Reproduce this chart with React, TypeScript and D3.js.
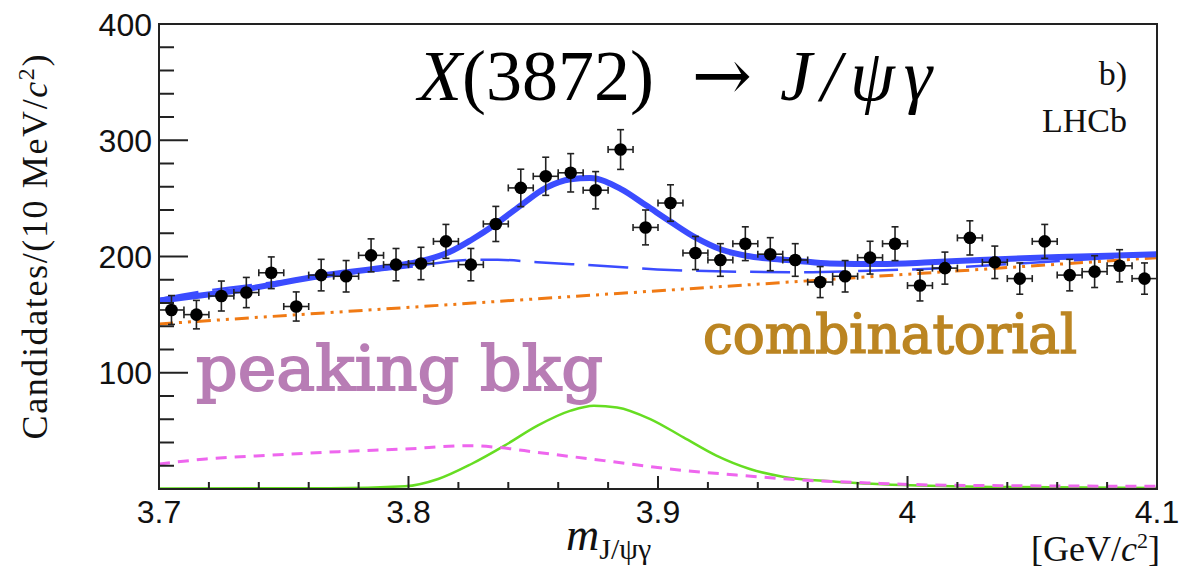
import React from 'react';
import * as d3 from 'd3';

// ---- data ----
const binCenters = [
  3.705, 3.715, 3.725, 3.735, 3.745, 3.755, 3.765, 3.775, 3.785, 3.795,
  3.805, 3.815, 3.825, 3.835, 3.845, 3.855, 3.865, 3.875, 3.885, 3.895,
  3.905, 3.915, 3.925, 3.935, 3.945, 3.955, 3.965, 3.975, 3.985, 3.995,
  4.005, 4.015, 4.025, 4.035, 4.045, 4.055, 4.065, 4.075, 4.085, 4.095,
];
const counts = [
  154, 150, 166, 169, 186, 157, 184, 183, 201, 193,
  194, 213, 193, 228, 259, 269, 272, 257, 292, 225,
  246, 203, 197, 211, 202, 197, 178, 183, 199, 211,
  175, 190, 216, 195, 181, 213, 184, 187, 192, 181,
];

// total fit (thick blue)
const totalX = [3.7, 3.735, 3.765, 3.795, 3.805, 3.8166, 3.825, 3.835, 3.845, 3.855, 3.865, 3.8727, 3.8852, 3.8952, 3.905, 3.9153, 3.9253, 3.9353, 3.9453, 3.9553, 3.9689, 3.989, 4.009, 4.029, 4.0491, 4.0691, 4.1];
const totalY = [162, 172, 183.5, 192, 196, 204, 214, 228, 244, 259, 266.5, 267.5, 258, 244, 230, 216, 206, 200.7, 198, 196.4, 194, 193.5, 195, 197, 198.7, 200, 202];

// signal (green)
const signalX = [3.7, 3.7685, 3.7986, 3.8119, 3.8252, 3.8385, 3.8517, 3.865, 3.8743, 3.8836, 3.8969, 3.9102, 3.9234, 3.9368, 3.95, 3.9713, 3.9978, 4.0377, 4.1];
const signalY = [0.5, 0.6, 2.3, 8.6, 21.5, 37.3, 54.5, 67.4, 71.7, 70.2, 60.2, 44.4, 28.7, 17.2, 10.6, 6.3, 3.4, 1.7, 0.9];

// peaking background (magenta dashed)
const peakingX = [3.7, 3.7188, 3.7455, 3.7721, 3.7986, 3.8251, 3.8358, 3.8517, 3.8783, 3.9048, 3.9314, 3.958, 3.9846, 4.011, 4.0377, 4.1];
const peakingY = [21.5, 25.8, 29.2, 32.1, 34.4, 37.3, 35.8, 31.5, 24.4, 17.2, 12, 7.7, 5.2, 3.4, 2.9, 2.3];

// combinatorial (orange dash-dot-dot)
const combX = [3.7, 4.1];
const combY = [142, 199];

const yTickValues = [100, 200, 300, 400];
const xTickValues = [3.7, 3.8, 3.9, 4.0, 4.1];
const xTickLabels = ['3.7', '3.8', '3.9', '4', '4.1'];

const SERIF = '"Liberation Serif", "Times New Roman", serif';
const SANS = '"Liberation Sans", Arial, sans-serif';
const SLAB = '"DejaVu Serif", serif';

export default function App() {
  const W = 1179;
  const H = 572;
  const L = 159, R = 1157, T = 24, B = 489;
  const x = d3.scaleLinear().domain([3.7, 4.1]).range([L, R]);
  const y = d3.scaleLinear().domain([0, 400]).range([B, T]);

  const line = d3.line<[number, number]>()
    .x((d) => x(d[0]))
    .y((d) => y(d[1]))
    .curve(d3.curveMonotoneX);

  const comb = d3.scaleLinear().domain(combX).range(combY);
  const totalPath = line(totalX.map((v, i) => [v, totalY[i]]))!;
  const signalPath = line(signalX.map((v, i) => [v, signalY[i]]))!;
  const peakingPath = line(peakingX.map((v, i) => [v, peakingY[i]]))!;
  const bkgPath = line(peakingX.map((v, i) => [v, peakingY[i] + comb(v)]))!;
  const combPath = line(combX.map((v, i) => [v, combY[i]]))!;

  const yMinor = d3.range(0, 401, 20);
  const xMinor = d3.range(0, 21).map((i) => 3.7 + i * 0.02);

  const serifStyle = { fontFamily: SERIF };

  return (
    <svg width={W} height={H} style={{ position: 'absolute', left: 0, top: 0, background: '#fff' }}>
      <defs>
        <clipPath id="plotclip">
          <rect x={L} y={T} width={R - L} height={B - T} />
        </clipPath>
      </defs>
      <rect x={0} y={0} width={W} height={H} fill="#fff" />

      {/* curves */}
      <g clipPath="url(#plotclip)" fill="none">
        <path d={signalPath} stroke="#66dd22" strokeWidth={2.5} />
        <path d={peakingPath} stroke="#ee66ee" strokeWidth={3} strokeDasharray="11,8" />
        <path d={combPath} stroke="#f07a14" strokeWidth={3} strokeDasharray="14,6,3,6,3,6" />
        <path d={bkgPath} stroke="#3b4cff" strokeWidth={2.5} strokeDasharray="40,14" />
        <path d={totalPath} stroke="#3b4cff" strokeWidth={6} strokeLinecap="round" />
      </g>

      {/* data points */}
      <g stroke="#222" strokeWidth={1.6}>
        {binCenters.map((c, i) => {
          const v = counts[i];
          const e = Math.sqrt(v);
          const cx = x(c), cy = y(v);
          const x0 = x(c - 0.005), x1 = x(c + 0.005);
          const y0 = y(v - e), y1 = y(v + e);
          return (
            <g key={i}>
              <line x1={cx} x2={cx} y1={y0} y2={y1} />
              <line x1={cx - 3.5} x2={cx + 3.5} y1={y0} y2={y0} />
              <line x1={cx - 3.5} x2={cx + 3.5} y1={y1} y2={y1} />
              <line x1={x0} x2={x1} y1={cy} y2={cy} />
              <line x1={x0} x2={x0} y1={cy - 3.5} y2={cy + 3.5} />
              <line x1={x1} x2={x1} y1={cy - 3.5} y2={cy + 3.5} />
              <circle cx={cx} cy={cy} r={6.3} fill="#000" stroke="none" />
            </g>
          );
        })}
      </g>

      {/* frame */}
      <rect x={L} y={T} width={R - L} height={B - T} fill="none" stroke="#222" strokeWidth={2} />

      {/* ticks */}
      <g stroke="#222" strokeWidth={2}>
        {yMinor.map((v) => (
          <line key={'ym' + v} x1={L} x2={L + (v % 100 === 0 ? 29 : 15)} y1={y(v)} y2={y(v)} />
        ))}
        {xMinor.map((v, i) => (
          <line key={'xm' + i} x1={x(v)} x2={x(v)} y1={B} y2={B - (i % 5 === 0 ? 13 : 7)} />
        ))}
      </g>

      {/* tick labels */}
      <g fontSize={32} fill="#111">
        {yTickValues.map((v) => (
          <text key={'yl' + v} x={152} y={y(v) + 11.5} textAnchor="end" style={{ fontFamily: SANS }}>{v}</text>
        ))}
        {xTickValues.map((v, i) => (
          <text key={'xl' + i} x={x(v)} y={523} textAnchor="middle" style={{ fontFamily: SANS }}>{xTickLabels[i]}</text>
        ))}
      </g>

      {/* axis titles */}
      <text
        transform={`translate(47, 247) rotate(-90)`}
        textAnchor="middle"
        style={serifStyle}
        fontSize={36}
        fill="#111"
        textLength={385}
        lengthAdjust="spacing"
      >
        Candidates/(10 MeV/<tspan fontStyle="italic">c</tspan><tspan fontSize={24} dy={-13}>2</tspan><tspan dy={13}>)</tspan>
      </text>

      <text x={566} y={550} style={serifStyle} fill="#111">
        <tspan fontStyle="italic" fontSize={46}>m</tspan>
        <tspan fontSize={30} dy={9}>J/ψγ</tspan>
      </text>

      <text x={1160} y={561} textAnchor="end" style={serifStyle} fontSize={36} fill="#111">
        [GeV/<tspan fontStyle="italic">c</tspan><tspan fontSize={22} dy={-13}>2</tspan><tspan dy={13}>]</tspan>
      </text>

      {/* title */}
      <text x={418} y={100} style={serifStyle} fontSize={72} fill="#000">
        <tspan fontStyle="italic">X</tspan>(3872)
      </text>
      <text x={722} y={100} textAnchor="middle" style={{ fontFamily: '"DejaVu Serif", serif' }} fontSize={72} fill="#000">→</text>
      <text x={780} y={100} style={serifStyle} fontSize={72} fill="#000" fontStyle="italic" textLength={152} lengthAdjust="spacing">J/ψγ</text>

      <text x={1127} y={85} textAnchor="end" style={serifStyle} fontSize={34} fill="#111">b)</text>
      <text x={1127} y={132} textAnchor="end" style={serifStyle} fontSize={34} fill="#111">LHCb</text>

      {/* annotations */}
      <text x={703} y={353} style={{ fontFamily: SLAB }} fontSize={54} fill="#bb8522" stroke="#bb8522" strokeWidth={1.6} textLength={374} lengthAdjust="spacingAndGlyphs">combinatorial</text>
      <text x={196} y={390} style={{ fontFamily: SLAB }} fontSize={62} fill="#b87db5" stroke="#b87db5" strokeWidth={1.8} textLength={407} lengthAdjust="spacingAndGlyphs">peaking bkg</text>
    </svg>
  );
}
